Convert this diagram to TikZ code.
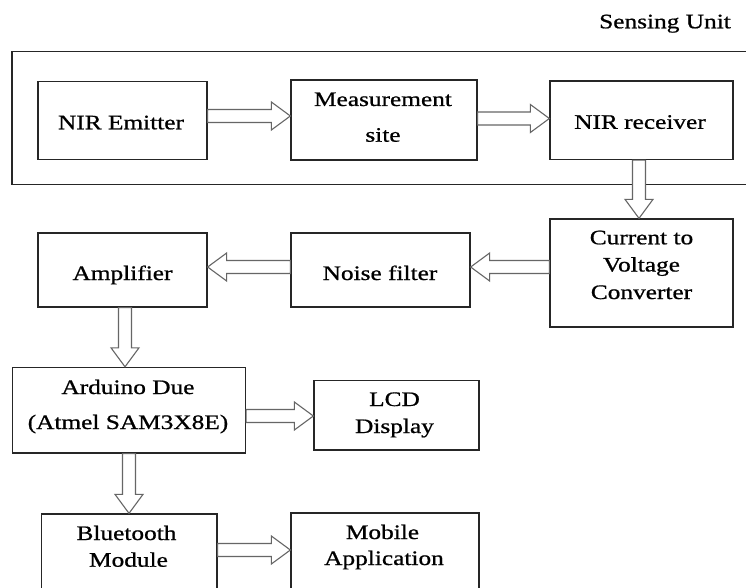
\documentclass[tikz,border=0pt]{standalone}
\usepackage{fontspec}
\setmainfont[FakeStretch=1.23,FakeBold=0.8]{Liberation Serif}
\usetikzlibrary{calc}
\tikzset{
  box/.style={draw=black!85, line width=1.3pt, inner sep=0pt},
  txt/.style={anchor=base, font=\fontsize{20.6}{27.5}\selectfont, inner sep=0pt, text=black},
  barrow/.style={draw=black!60, line width=1.1pt, fill=white, line join=miter},
}
\newcommand{\blockarrow}[2]{%
  \path[barrow] let \p1=(#1), \p2=(#2),
    \n1={atan2(\y2-\y1,\x2-\x1)}, \n2={veclen(\x2-\x1,\y2-\y1)}, \n3={\n2-19pt}
    in [shift={(\p1)}, rotate=\n1]
    (0pt,-6.5pt) -- (\n3,-6.5pt) -- (\n3,-14pt) -- (\n2,0pt)
    -- (\n3,14pt) -- (\n3,6.5pt) -- (0pt,6.5pt) -- cycle;}
\begin{document}
\begin{tikzpicture}[x=1pt,y=-1pt]
\path[use as bounding box, fill=white] (0,0) rectangle (746,588);
\clip (0,0) rectangle (746,588);

% sensing unit frame
\node[box, minimum width=758pt, minimum height=133.5pt] (sensing) at (391,118) {};
\node[txt] (sulabel) at (665,28.3) {Sensing Unit};

% boxes
\node[box, minimum width=169pt, minimum height=78pt] (emit) at (122.5,120.5) {};
\node[box, minimum width=186pt, minimum height=80pt] (meas) at (384,120) {};
\node[box, minimum width=183pt, minimum height=78.5pt] (recv) at (641.5,120.2) {};
\node[box, minimum width=183pt, minimum height=108pt] (cvc) at (641.5,273) {};
\node[box, minimum width=179pt, minimum height=74pt] (noise) at (380.5,270) {};
\node[box, minimum width=169pt, minimum height=74pt] (amp) at (122.5,270) {};
\node[box, minimum width=233pt, minimum height=85.5pt] (ard) at (129,410.2) {};
\node[box, minimum width=165pt, minimum height=69.5pt] (lcd) at (396.5,415.2) {};
\node[box, minimum width=175.5pt, minimum height=96pt] (bt) at (129.2,562) {};
\node[box, minimum width=188pt, minimum height=97pt] (mob) at (385,561.5) {};

% texts (one node per printed line, placed on its baseline)
\node[txt] (temit) at (121,129.3) {NIR Emitter};
\node[txt] (tmeasa) at (383,106) {Measurement};
\node[txt] (tmeasb) at (383,141.7) {site};
\node[txt] (trecv) at (640,128.8) {NIR receiver};
\node[txt] (tcvca) at (641.5,244.3) {Current to};
\node[txt] (tcvcb) at (641.5,271.5) {Voltage};
\node[txt] (tcvcc) at (641.5,299) {Converter};
\node[txt] (tnoise) at (380,280) {Noise filter};
\node[txt] (tamp) at (122.5,280) {Amplifier};
\node[txt] (tarda) at (128,394) {Arduino Due};
\node[txt] (tardb) at (128,429) {(Atmel SAM3X8E)};
\node[txt] (tlcda) at (394.5,406) {LCD};
\node[txt] (tlcdb) at (394.5,433) {Display};
\node[txt] (tbta) at (126.5,540) {Bluetooth};
\node[txt] (tbtb) at (128.5,566.7) {Module};
\node[txt] (tmoba) at (382.5,539) {Mobile};
\node[txt] (tmobb) at (384,565) {Application};

% arrow end points
\coordinate (a1s) at (emit.east |- 0,116);
\coordinate (a1e) at (meas.west |- 0,116);
\coordinate (a2s) at (meas.east |- 0,118.5);
\coordinate (a2e) at (recv.west |- 0,118.5);
\coordinate (a3s) at (639,0 |- recv.south);
\coordinate (a3e) at (639,0 |- cvc.north);
\coordinate (a4s) at (cvc.west |- 0,267);
\coordinate (a4e) at (noise.east |- 0,267);
\coordinate (a5s) at (noise.west |- 0,267);
\coordinate (a5e) at (amp.east |- 0,267);
\coordinate (a6s) at (125,0 |- amp.south);
\coordinate (a6e) at (125,0 |- ard.north);
\coordinate (a7s) at (ard.east |- 0,416);
\coordinate (a7e) at (lcd.west |- 0,416);
\coordinate (a8s) at (129,0 |- ard.south);
\coordinate (a8e) at (129,0 |- bt.north);
\coordinate (a9s) at (bt.east |- 0,550);
\coordinate (a9e) at (mob.west |- 0,550);

\blockarrow{a1s}{a1e}
\blockarrow{a2s}{a2e}
\blockarrow{a3s}{a3e}
\blockarrow{a4s}{a4e}
\blockarrow{a5s}{a5e}
\blockarrow{a6s}{a6e}
\blockarrow{a7s}{a7e}
\blockarrow{a8s}{a8e}
\blockarrow{a9s}{a9e}
\end{tikzpicture}
\end{document}
